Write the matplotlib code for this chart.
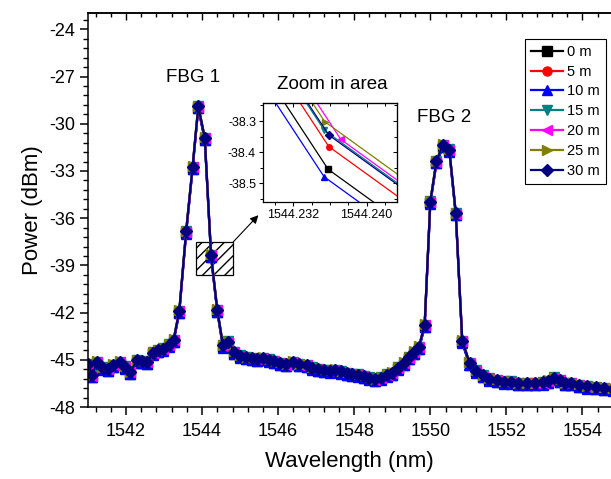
import matplotlib
matplotlib.use('Agg')
import matplotlib.pyplot as plt
from matplotlib.patches import Rectangle
from matplotlib.ticker import MultipleLocator, FormatStrFormatter
import numpy as np

plt.rcParams['font.family'] = ['Liberation Sans', 'DejaVu Sans']
plt.rcParams['axes.unicode_minus'] = False

# Panjang gelombang (nm) dan daya (dBm) seri 0 m
wl = [1541.00, 1541.10, 1541.24, 1541.40, 1541.52, 1541.67, 1541.85, 1541.98,
      1542.11, 1542.29, 1542.42, 1542.55, 1542.72, 1542.85, 1542.98, 1543.12,
      1543.25, 1543.40, 1543.58, 1543.75, 1543.90, 1544.07, 1544.2358, 1544.40,
      1544.55, 1544.69, 1544.85, 1545.00, 1545.15, 1545.30, 1545.45, 1545.60,
      1545.75, 1545.90, 1546.05, 1546.20, 1546.40, 1546.55, 1546.75, 1546.90,
      1547.05, 1547.20, 1547.35, 1547.50, 1547.65, 1547.80, 1547.95, 1548.10,
      1548.25, 1548.40, 1548.55, 1548.70, 1548.85, 1549.00, 1549.15, 1549.30,
      1549.45, 1549.58, 1549.70, 1549.85, 1550.00, 1550.16, 1550.33, 1550.50,
      1550.67, 1550.84, 1551.03, 1551.20, 1551.38, 1551.55, 1551.76, 1551.95,
      1552.11, 1552.30, 1552.55, 1552.75, 1552.95, 1553.10, 1553.25, 1553.40,
      1553.55, 1553.70, 1553.90, 1554.13, 1554.35, 1554.57, 1554.80]
power_0m = [-45.40, -46.10, -45.25, -45.60, -45.70, -45.45, -45.25, -45.55,
            -45.90, -45.15, -45.20, -45.25, -44.65, -44.50, -44.40, -44.15,
            -43.85, -42.00, -36.95, -32.85, -29.00, -31.00, -38.455, -41.95,
            -44.20, -43.95, -44.60, -44.85, -44.95, -45.00, -45.05, -45.00,
            -45.10, -45.20, -45.30, -45.40, -45.25, -45.40, -45.45, -45.60,
            -45.70, -45.75, -45.80, -45.75, -45.85, -45.95, -46.00, -46.05,
            -46.15, -46.25, -46.35, -46.25, -46.05, -45.95, -45.60, -45.30,
            -44.95, -44.60, -44.30, -42.90, -35.05, -32.50, -31.45, -31.75,
            -35.80, -43.90, -45.30, -45.80, -46.10, -46.30, -46.40, -46.50,
            -46.50, -46.60, -46.60, -46.60, -46.55, -46.45, -46.25, -46.40,
            -46.60, -46.60, -46.70, -46.80, -46.85, -46.90, -46.95]

labels = ['0 m', '5 m', '10 m', '15 m', '20 m', '25 m', '30 m']
# Selisih tiap seri terhadap 0 m (dibaca dari gambar zoom)
wl_shift = [0.0, 0.00007, -0.00044, -0.00044, 0.00138, -0.00037, 0.00007]
power_shift = [0.0, 0.073, -0.024, 0.126, 0.096, 0.153, 0.110]

colors = ['black', 'red', 'blue', '#008080', 'magenta', '#808000', '#000080']
markers = ['s', 'o', '^', 'v', '<', '>', 'D']

fig = plt.figure(figsize=(6.11, 4.79), dpi=100)
ax = fig.add_axes([0.144, 0.1503, 0.856, 0.8232])

for i in range(len(labels)):
    x = np.array(wl) + wl_shift[i]
    y = np.array(power_0m) + power_shift[i]
    ax.plot(x, y, color=colors[i], marker=markers[i], ms=6.5, lw=1.6,
            label=labels[i])

ax.set_xlim(1541.0, 1554.75)
ax.set_ylim(-48, -22.94)
ax.xaxis.set_major_locator(MultipleLocator(2))
ax.xaxis.set_minor_locator(MultipleLocator(0.4))
ax.yaxis.set_major_locator(MultipleLocator(3))
ax.yaxis.set_minor_locator(MultipleLocator(0.6))
ax.spines['right'].set_visible(False)
for s in ['left', 'bottom', 'top']:
    ax.spines[s].set_linewidth(1.1)
ax.tick_params(which='major', direction='out', length=6, width=1.1, labelsize=13)
ax.tick_params(which='minor', direction='out', length=3.5, width=1.0)
ax.tick_params(axis='x', which='major', pad=5.5)

# sumbu atas dengan tick ke dalam
top = ax.secondary_xaxis('top')
top.xaxis.set_major_locator(MultipleLocator(2))
top.xaxis.set_minor_locator(MultipleLocator(0.4))
top.tick_params(which='both', direction='in', labeltop=False, width=1.0)
top.tick_params(which='major', length=5)
top.tick_params(which='minor', length=3)
top.spines['top'].set_linewidth(1.1)

ax.set_xlabel('Wavelength (nm)', fontsize=16, labelpad=8)
ax.set_ylabel('Power (dBm)', fontsize=16, labelpad=4)

leg = ax.legend(loc='upper right', bbox_to_anchor=(0.9904, 0.9333),
                borderaxespad=0, fancybox=False, edgecolor='black',
                fontsize=10.5, handlelength=2.2, handletextpad=0.3,
                labelspacing=0.4, borderpad=0.4, framealpha=1)
leg.get_frame().set_linewidth(0.8)

# kotak area zoom dan panah
box = Rectangle((1543.835, -39.62), 0.971, 2.08, fill=False, hatch='///',
                edgecolor='black', lw=0.9)
ax.add_patch(box)
ax.annotate('', xy=(1545.48, -35.81), xytext=(1544.806, -37.54),
            arrowprops=dict(arrowstyle='-|>', color='black', lw=0.8,
                            mutation_scale=12, shrinkA=0, shrinkB=0))

fig.text(0.316, 0.839, 'FBG 1', fontsize=13.5, ha='center', va='center')
fig.text(0.7277, 0.7537, 'FBG 2', fontsize=13.5, ha='center', va='center')
fig.text(0.5445, 0.8246, 'Zoom in area', fontsize=13.5, ha='center', va='center')

# grafik kecil (inset)
axin = fig.add_axes([0.4304, 0.5783, 0.2193, 0.2067])
for i in range(len(labels)):
    x = np.array(wl) + wl_shift[i]
    y = np.array(power_0m) + power_shift[i]
    axin.plot(x, y, color=colors[i], marker=markers[i], ms=4, lw=0.9)
axin.set_xlim(1544.2287, 1544.2433)
axin.set_ylim(-38.56, -38.242)
axin.set_xticks([1544.232, 1544.240])
axin.xaxis.set_minor_locator(MultipleLocator(0.002))
axin.xaxis.set_major_formatter(FormatStrFormatter('%.3f'))
axin.set_yticks([-38.3, -38.4, -38.5])
axin.yaxis.set_minor_locator(MultipleLocator(0.05))
axin.yaxis.set_major_formatter(FormatStrFormatter('%.1f'))
axin.tick_params(which='major', direction='out', length=3, width=0.8,
                 labelsize=9, pad=2)
axin.tick_params(which='minor', direction='out', length=2, width=0.7)
for s in axin.spines.values():
    s.set_linewidth(0.9)
inr = axin.secondary_yaxis('right')
inr.set_yticks([-38.3, -38.4, -38.5])
inr.yaxis.set_minor_locator(MultipleLocator(0.05))
inr.tick_params(which='both', direction='in', labelright=False, width=0.7)
inr.tick_params(which='major', length=3)
inr.tick_params(which='minor', length=2)
intop = axin.secondary_xaxis('top')
intop.set_xticks([1544.232, 1544.240])
intop.xaxis.set_minor_locator(MultipleLocator(0.002))
intop.tick_params(which='both', direction='in', labeltop=False, width=0.7)
intop.tick_params(which='major', length=3)
intop.tick_params(which='minor', length=2)

plt.savefig('out.png', dpi=100)
